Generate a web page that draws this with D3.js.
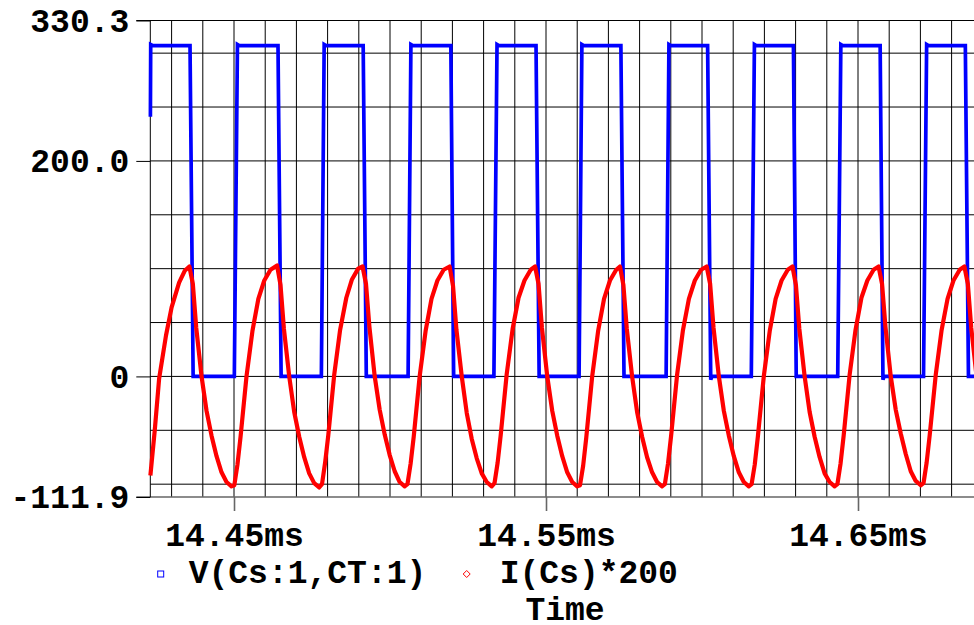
<!DOCTYPE html>
<html>
<head>
<meta charset="utf-8">
<script src="https://cdn.jsdelivr.net/npm/d3@7"></script>
<style>
  body { margin: 0; background: #fff; }
  text { font-family: "Liberation Mono", "Courier New", monospace; font-weight: bold; fill: #000; }
</style>
</head>
<body>
<svg id="chart" width="974" height="625"></svg>
<script>
// time in microseconds, values in volts (and amps*200)
var vCsCT = [
  [14423.2, 241], [14423.3, 308], [14424.0, 307],
  [14435.9, 307], [14436.9, 0],
  [14450.1, 0], [14451.1, 308], [14451.7, 307],
  [14464.1, 307], [14465.1, 0],
  [14478.0, 0], [14478.9, 308], [14479.5, 307],
  [14491.4, 307], [14492.4, 0],
  [14505.8, 0], [14506.7, 308], [14507.3, 307],
  [14519.5, 307], [14520.4, 0],
  [14533.3, 0], [14534.3, 308], [14534.9, 307],
  [14546.8, 307], [14547.8, 0],
  [14560.6, 0], [14561.5, 308], [14562.1, 307],
  [14574.0, 307], [14575.0, 0],
  [14588.5, 0], [14589.4, 308], [14590.0, 307],
  [14601.8, 307], [14602.8, -3], [14603.2, 0],
  [14615.8, 0], [14616.8, 308], [14617.4, 307],
  [14629.3, 307], [14630.2, 0],
  [14643.5, 0], [14644.5, 308], [14645.1, 307],
  [14657.1, 307], [14658.0, -3], [14658.4, 0],
  [14671.0, 0], [14672.0, 308], [14672.6, 307],
  [14684.4, 307], [14685.4, 0],
  [14690.0, 0]
];

var iCs200 = [
  [14423.2, -92], [14424.6, -50], [14426.0, -2], [14428.2, 38], [14430.0, 64], [14432.4, 87], [14434.2, 98],
  [14435.7, 102], [14436.8, 86], [14437.9, 45], [14439.6, 0], [14441.2, -32], [14442.8, -55], [14444.4, -74], [14446.0, -89], [14447.6, -98],
  [14449.2, -102], [14450.1, -101], [14451.1, -82], [14452.1, -56], [14454.0, 0], [14455.9, 42], [14457.8, 72], [14459.7, 89], [14461.7, 99],
  [14463.8, 103], [14464.9, 85], [14466.0, 44], [14467.7, 0], [14469.3, -33], [14470.9, -56], [14472.5, -75], [14474.1, -90], [14475.7, -99],
  [14477.3, -103], [14478.2, -100], [14479.2, -80], [14480.2, -55], [14482.1, 1], [14484.0, 43], [14486.0, 73], [14487.8, 90], [14489.8, 100],
  [14491.2, 102], [14492.3, 86], [14493.4, 46], [14495.1, 0], [14496.7, -31], [14498.3, -54], [14499.9, -73], [14501.5, -88], [14503.1, -98],
  [14504.7, -102], [14505.6, -100], [14506.6, -81], [14507.6, -56], [14509.5, 0], [14511.4, 42], [14513.3, 72], [14515.2, 89], [14517.2, 99],
  [14519.1, 102], [14520.2, 84], [14521.3, 43], [14523.0, 0], [14524.6, -34], [14526.2, -58], [14527.8, -76], [14529.4, -90], [14531.0, -98],
  [14532.6, -102], [14533.5, -99], [14534.5, -80], [14535.5, -54], [14537.4, 2], [14539.3, 44], [14541.2, 73], [14543.1, 89], [14545.1, 99],
  [14546.5, 102], [14547.6, 86], [14548.7, 45], [14550.4, 0], [14552.0, -32], [14553.6, -55], [14555.2, -74], [14556.8, -89], [14558.4, -98],
  [14560.0, -102], [14560.9, -101], [14561.9, -83], [14562.9, -57], [14564.8, 0], [14566.7, 42], [14568.6, 72], [14570.5, 89], [14572.5, 99],
  [14573.7, 102], [14574.8, 85], [14575.9, 44], [14577.6, 0], [14579.2, -33], [14580.8, -56], [14582.4, -75], [14584.0, -89], [14585.6, -98],
  [14587.2, -102], [14588.1, -100], [14589.1, -81], [14590.1, -55], [14592.0, 1], [14593.9, 43], [14595.8, 72], [14597.7, 89], [14599.7, 99],
  [14601.5, 102], [14602.6, 86], [14603.7, 45], [14605.4, 0], [14607.0, -32], [14608.6, -55], [14610.2, -74], [14611.8, -89], [14613.4, -98],
  [14615.0, -102], [14615.9, -100], [14616.9, -82], [14617.9, -56], [14619.8, 0], [14621.7, 42], [14623.6, 72], [14625.5, 89], [14627.5, 99],
  [14629.0, 102], [14630.1, 85], [14631.2, 44], [14632.9, 0], [14634.5, -33], [14636.1, -56], [14637.7, -75], [14639.3, -90], [14640.9, -98],
  [14642.5, -102], [14643.4, -100], [14644.4, -81], [14645.4, -55], [14647.3, 1], [14649.2, 43], [14651.1, 73], [14653.0, 89], [14655.0, 99],
  [14656.6, 102], [14657.7, 86], [14658.8, 46], [14660.5, 0], [14662.1, -31], [14663.7, -53], [14665.3, -72], [14666.9, -88], [14668.5, -97],
  [14670.1, -101], [14671.0, -99], [14672.0, -80], [14673.0, -54], [14674.9, 1], [14676.8, 43], [14678.7, 72], [14680.6, 89], [14682.6, 99],
  [14684.1, 102], [14685.2, 86], [14686.3, 45], [14688.0, 0]
];

var seriesNames  = ["V(Cs:1,CT:1)", "I(Cs)*200"];
var seriesColors = ["#0000ff", "#ff0000"];

var yTickValues = [330.3, 200.0, 0, -111.9];
var yTickLabels = ["330.3", "200.0", "0", "-111.9"];
var yGridValues = [-100, -50, 0, 50, 100, 150, 200, 250, 300];

var xTickValues = [14450, 14550, 14650];
var xTickLabels = ["14.45ms", "14.55ms", "14.65ms"];

var plotLeft = 150.3, plotRight = 975, plotTop = 20.5, plotBottom = 497;

var svg = d3.select("#chart");

var x = d3.scaleLinear()
  .domain([14423.17, 14687.5])
  .range([plotLeft, plotRight]);

var y = d3.scaleLinear()
  .domain([-111.9, 330.3])
  .range([plotBottom, plotTop]);

// grid
var grid = svg.append("g")
  .attr("stroke", "#000")
  .attr("stroke-width", 1);

grid.selectAll(".vgrid")
  .data(d3.range(14430, 14690, 10))
  .enter().append("line")
  .attr("x1", function (d) { return x(d); })
  .attr("x2", function (d) { return x(d); })
  .attr("y1", plotTop)
  .attr("y2", plotBottom);

grid.selectAll(".hgrid")
  .data(yGridValues)
  .enter().append("line")
  .attr("x1", plotLeft)
  .attr("x2", 974)
  .attr("y1", function (d) { return y(d); })
  .attr("y2", function (d) { return y(d); });

// frame: top, bottom and left edges
grid.append("line").attr("x1", plotLeft - 14).attr("x2", 974).attr("y1", plotTop).attr("y2", plotTop);
grid.append("line").attr("x1", plotLeft - 14).attr("x2", 974).attr("y1", plotBottom).attr("y2", plotBottom).attr("stroke", "#666").attr("stroke-width", 1.6);
grid.append("line").attr("x1", plotLeft).attr("x2", plotLeft).attr("y1", plotTop).attr("y2", plotBottom);

// y axis
var yAxis = d3.axisLeft(y)
  .tickValues(yTickValues)
  .tickFormat(function (d, i) { return yTickLabels[i]; })
  .tickSize(14)
  .tickPadding(7);

var gy = svg.append("g")
  .attr("transform", "translate(" + plotLeft + ",0)")
  .call(yAxis);
gy.select(".domain").remove();
gy.selectAll("line").attr("stroke", "#000");
gy.selectAll("text")
  .style("font-size", "33px")
  .attr("dy", "0.33em");

// x axis
var xAxis = d3.axisBottom(x)
  .tickValues(xTickValues)
  .tickFormat(function (d, i) { return xTickLabels[i]; })
  .tickSize(14)
  .tickPadding(12);

var gx = svg.append("g")
  .attr("transform", "translate(0," + plotBottom + ")")
  .call(xAxis);
gx.select(".domain").remove();
gx.selectAll("line").attr("stroke", "#666").attr("stroke-width", 1.6);
gx.selectAll("text")
  .style("font-size", "33px");

// traces
svg.append("clipPath")
  .attr("id", "clip")
  .append("rect")
  .attr("x", plotLeft - 5)
  .attr("y", 0)
  .attr("width", 974 - plotLeft + 5)
  .attr("height", 625);

var line = d3.line()
  .x(function (d) { return x(d[0]); })
  .y(function (d) { return y(d[1]); });

var traces = svg.append("g").attr("clip-path", "url(#clip)");

traces.append("path")
  .datum(vCsCT)
  .attr("d", line)
  .attr("fill", "none")
  .attr("stroke", seriesColors[0])
  .attr("stroke-width", 3.7)
  .attr("stroke-linejoin", "miter");

traces.append("path")
  .datum(iCs200)
  .attr("d", line)
  .attr("fill", "none")
  .attr("stroke", seriesColors[1])
  .attr("stroke-width", 4.2)
  .attr("stroke-linejoin", "round");

// legend
var legendX = [160.7, 466.7];
var legend = svg.append("g");

legend.append("rect")
  .attr("x", legendX[0] - 3)
  .attr("y", 571)
  .attr("width", 6)
  .attr("height", 6)
  .attr("fill", "none")
  .attr("stroke", seriesColors[0])
  .attr("stroke-width", 1);

legend.append("path")
  .attr("d", "M" + legendX[1] + ",570.5 l3.5,3.5 l-3.5,3.5 l-3.5,-3.5 z")
  .attr("fill", "none")
  .attr("stroke", seriesColors[1])
  .attr("stroke-width", 1);

legend.selectAll(".name")
  .data(seriesNames)
  .enter().append("text")
  .attr("x", function (d, i) { return legendX[i] + (i ? 33 : 28); })
  .attr("y", 583)
  .style("font-size", "33px")
  .text(function (d) { return d; });

svg.append("text")
  .attr("x", 565)
  .attr("y", 620)
  .attr("text-anchor", "middle")
  .style("font-size", "33px")
  .text("Time");
</script>
</body>
</html>
